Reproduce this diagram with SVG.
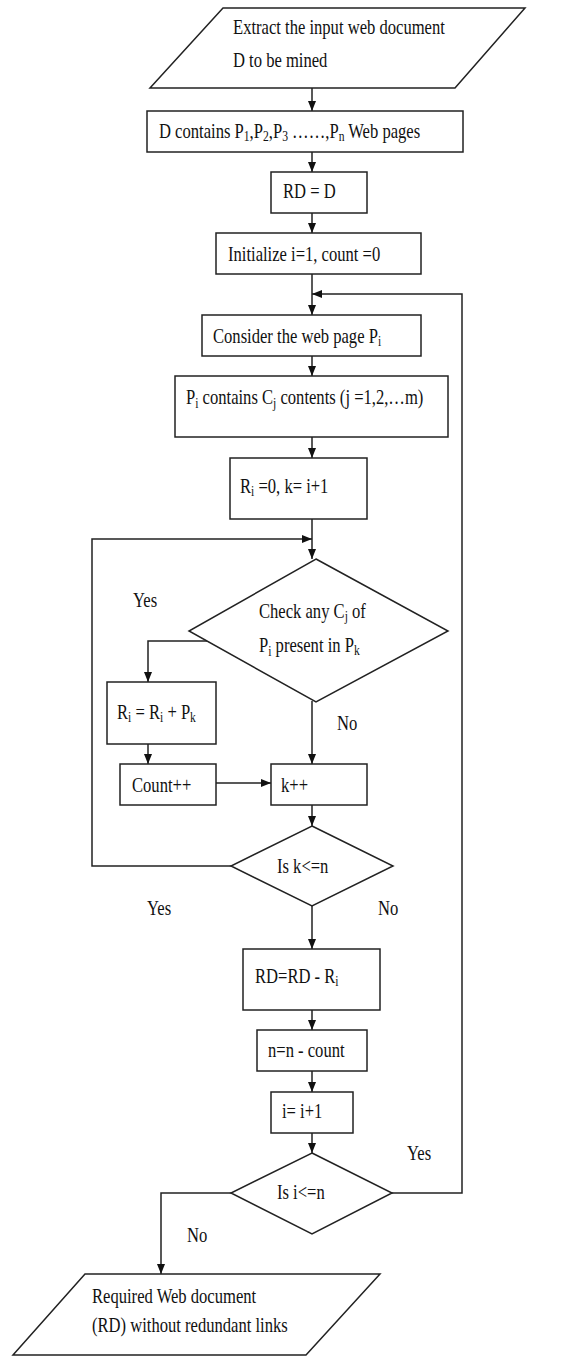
<svg xmlns="http://www.w3.org/2000/svg" width="577" height="1356" viewBox="0 0 577 1356">
<defs>
<marker id="ah" markerUnits="userSpaceOnUse" markerWidth="10" markerHeight="8" refX="10" refY="4" orient="auto">
<path d="M0,0 L10,4 L0,8 z" fill="#111"/>
</marker>
<style>
.s{fill:#fff;stroke:#222;stroke-width:1.5}
.c{fill:none;stroke:#222;stroke-width:1.5;marker-end:url(#ah)}
.l{fill:none;stroke:#222;stroke-width:1.5}
text{font-family:"Liberation Serif","Times New Roman",serif;font-size:20px;fill:#111}
.sb{font-size:14px}
</style>
</defs>
<rect width="577" height="1356" fill="#fff"/>

<g id="connectors">
<path class="c" d="M312,88 V111"/>
<path class="c" d="M312,152 V172"/>
<path class="c" d="M312,213 V233"/>
<path class="c" d="M312,274 V315"/>
<path class="c" d="M392,1193 H462 V294 H312"/>
<path class="c" d="M312,356 V376"/>
<path class="c" d="M312,437 V458"/>
<path class="c" d="M312,519 V559"/>
<path class="c" d="M231,866 H92 V539 H312"/>
<path class="c" d="M207,641 H148 V682"/>
<path class="c" d="M148,744 V764"/>
<path class="c" d="M216,783 H271"/>
<path class="c" d="M312,701 V764"/>
<path class="c" d="M312,805 V826"/>
<path class="c" d="M312,906 V949"/>
<path class="c" d="M312,1010 V1030"/>
<path class="c" d="M312,1071 V1092"/>
<path class="c" d="M312,1133 V1153"/>
<path class="c" d="M231,1193 H161 V1274"/>
</g>

<g id="start">
<polygon class="s" points="223,8 525,8 455,88 150,88"/>
<text transform="translate(233,34) scale(0.83,1)">Extract the input web document</text>
<text transform="translate(233,67) scale(0.83,1)">D to be mined</text>
</g>

<g id="contains">
<rect class="s" x="147" y="111" width="316" height="41"/>
<text transform="translate(159,138) scale(0.83,1)">D contains P<tspan class="sb" dy="3">1</tspan><tspan dy="-3">,P</tspan><tspan class="sb" dy="3">2</tspan><tspan dy="-3">,P</tspan><tspan class="sb" dy="3">3</tspan><tspan dy="-3"> ……,P</tspan><tspan class="sb" dy="3">n</tspan><tspan dy="-3"> Web pages</tspan></text>
</g>

<g id="rd">
<rect class="s" x="271" y="172" width="96" height="41"/>
<text transform="translate(283,198) scale(0.83,1)">RD = D</text>
</g>

<g id="init">
<rect class="s" x="216" y="233" width="205" height="41"/>
<text transform="translate(228,261) scale(0.83,1)">Initialize i=1, count =0</text>
</g>

<g id="consider">
<rect class="s" x="202" y="315" width="219" height="41"/>
<text transform="translate(213,343) scale(0.83,1)">Consider the web page P<tspan class="sb" dy="3">i</tspan></text>
</g>

<g id="pcontains">
<rect class="s" x="175" y="376" width="273" height="61"/>
<text transform="translate(186,404) scale(0.83,1)">P<tspan class="sb" dy="4">i</tspan><tspan dy="-4"> contains C</tspan><tspan class="sb" dy="4">j</tspan><tspan dy="-4"> contents (j =1,2,…m)</tspan></text>
</g>

<g id="rinit">
<rect class="s" x="230" y="458" width="137" height="61"/>
<text transform="translate(240,493) scale(0.83,1)">R<tspan class="sb" dy="3">i</tspan><tspan dy="-3"> =0, k= i+1</tspan></text>
</g>

<g id="check">
<polygon class="s" points="316,559 448,631 316,702 189,631"/>
<text transform="translate(259,618) scale(0.83,1)">Check any C<tspan class="sb" dy="3">j</tspan><tspan dy="-3"> of</tspan></text>
<text transform="translate(259,652) scale(0.83,1)">P<tspan class="sb" dy="4">i</tspan><tspan dy="-4">  present in P</tspan><tspan class="sb" dy="3">k</tspan></text>
</g>

<g id="radd">
<rect class="s" x="107" y="682" width="109" height="62"/>
<text transform="translate(117,719) scale(0.83,1)">R<tspan class="sb" dy="3">i</tspan><tspan dy="-3"> = R</tspan><tspan class="sb" dy="3">i</tspan><tspan dy="-3"> + P</tspan><tspan class="sb" dy="3">k</tspan></text>
</g>

<g id="count">
<rect class="s" x="120" y="764" width="96" height="41"/>
<text transform="translate(132,792) scale(0.83,1)">Count++</text>
</g>

<g id="kinc">
<rect class="s" x="271" y="764" width="96" height="41"/>
<text transform="translate(281,792) scale(0.83,1)">k++</text>
</g>

<g id="kcheck">
<polygon class="s" points="312,826 393,866 312,906 231,866"/>
<text transform="translate(277,873) scale(0.83,1)">Is k&lt;=n</text>
</g>

<g id="rdsub">
<rect class="s" x="243" y="949" width="137" height="61"/>
<text transform="translate(255,983) scale(0.83,1)">RD=RD - R<tspan class="sb" dy="3">i</tspan></text>
</g>

<g id="nsub">
<rect class="s" x="257" y="1030" width="110" height="41"/>
<text transform="translate(268,1057) scale(0.83,1)">n=n - count</text>
</g>

<g id="iinc">
<rect class="s" x="271" y="1092" width="82" height="41"/>
<text transform="translate(282,1118) scale(0.83,1)">i= i+1</text>
</g>

<g id="icheck">
<polygon class="s" points="312,1153 392,1193 312,1234 231,1193"/>
<text transform="translate(277,1199) scale(0.83,1)">Is i&lt;=n</text>
</g>

<g id="end">
<polygon class="s" points="85,1274 380,1274 306,1355 13,1355"/>
<text transform="translate(92,1303) scale(0.83,1)">Required Web document</text>
<text transform="translate(92,1332) scale(0.83,1)">(RD) without redundant links</text>
</g>

<g id="labels">
<text transform="translate(133,607) scale(0.83,1)">Yes</text>
<text transform="translate(337,730) scale(0.83,1)">No</text>
<text transform="translate(147,915) scale(0.83,1)">Yes</text>
<text transform="translate(378,915) scale(0.83,1)">No</text>
<text transform="translate(407,1160) scale(0.83,1)">Yes</text>
<text transform="translate(187,1242) scale(0.83,1)">No</text>
</g>
</svg>
